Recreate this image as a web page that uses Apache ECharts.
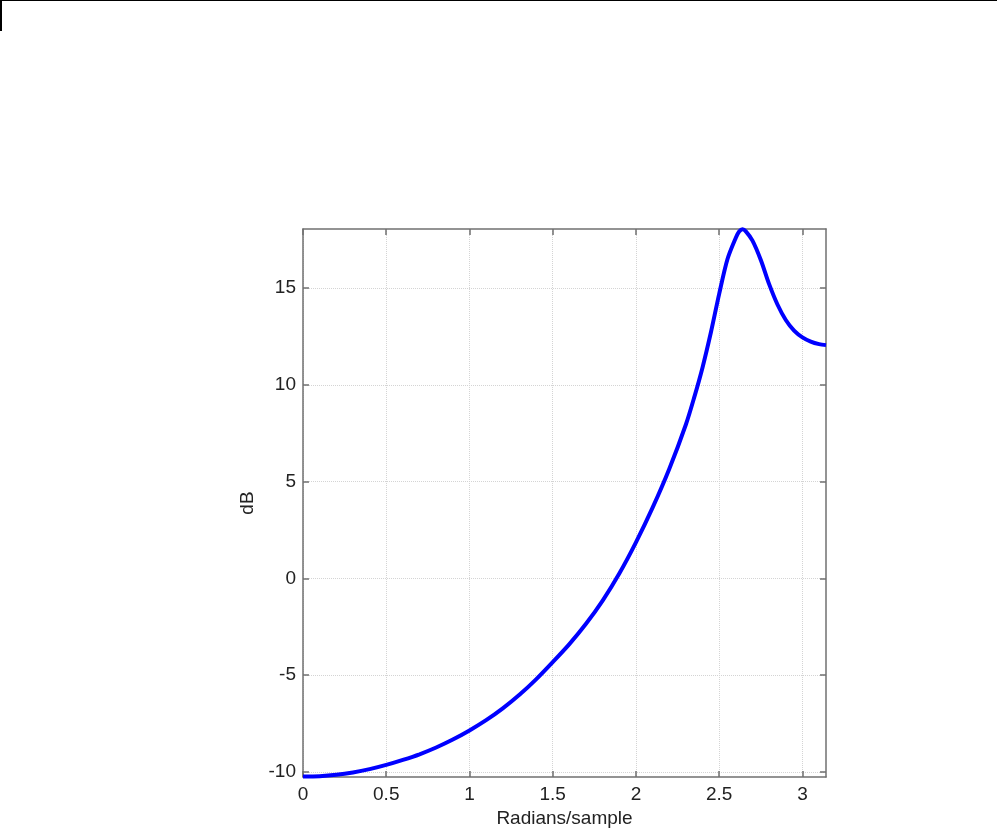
<!DOCTYPE html>
<html>
<head>
<meta charset="utf-8">
<script src="https://cdn.jsdelivr.net/npm/echarts@6/dist/echarts.min.js"></script>
<style>
  html, body { margin: 0; padding: 0; background: #fff; }
  #frame { position: absolute; left: 0; top: 0; width: 995px; height: 30px;
           border-top: 1px solid #000; border-left: 2px solid #000; }
  #chart { width: 997px; height: 833px; }
</style>
</head>
<body>
<div id="frame"></div>
<div id="chart"></div>
<script>
// frequency (rad/sample) and magnitude (dB)
const freqs = [0, 0.1, 0.2, 0.3, 0.4, 0.5, 0.6, 0.7, 0.8, 0.9, 1.0, 1.1, 1.2, 1.3, 1.4, 1.5,
  1.6, 1.7, 1.8, 1.9, 2.0, 2.1, 2.2, 2.3, 2.35, 2.4, 2.45, 2.5, 2.55, 2.6, 2.62, 2.64, 2.66,
  2.7, 2.75, 2.8, 2.85, 2.9, 2.95, 3.0, 3.05, 3.1, 3.1416];
const gainDb = [-10.24, -10.22, -10.15, -10.03, -9.86, -9.64, -9.38, -9.09, -8.74, -8.33, -7.86, -7.33, -6.72, -6.02, -5.22, -4.33,
  -3.40, -2.35, -1.15, 0.25, 1.86, 3.65, 5.65, 7.95, 9.35, 10.9, 12.7, 14.7, 16.5, 17.6, 17.92, 18.04, 17.93,
  17.45, 16.45, 15.2, 14.15, 13.35, 12.8, 12.45, 12.23, 12.1, 12.05];
const xTicks = [0, 0.5, 1, 1.5, 2, 2.5, 3];
const yTicks = [-10, -5, 0, 5, 10, 15];

const chart = echarts.init(document.getElementById('chart'));

const txt = { color: '#222', fontFamily: 'Liberation Sans, Arial, sans-serif', fontSize: 19 };
const boxLine = { show: true, onZero: false, lineStyle: { color: '#707070', width: 1.5 } };
const tick = (vals) => ({ show: true, inside: true, length: 6, customValues: vals,
  lineStyle: { color: '#707070', width: 1.5 } });
const grid = { show: true, lineStyle: { color: '#d4d4d4', type: 'dotted', width: 1 } };

const xMin = 0, xMax = Math.PI, yMin = -10.27, yMax = 18.05;

let option = {
  animation: false,
  grid: { left: 303, right: 171, top: 229, bottom: 54 },
  xAxis: [
    {
      type: 'value', min: xMin, max: xMax,
      name: 'Radians/sample', nameLocation: 'middle', nameGap: 24,
      nameTextStyle: txt,
      axisLine: boxLine, axisTick: tick(xTicks), splitLine: grid,
      axisLabel: Object.assign({ customValues: xTicks, margin: 8 }, txt)
    },
    {
      type: 'value', position: 'top', min: xMin, max: xMax,
      axisLine: boxLine, axisTick: tick(xTicks), splitLine: { show: false },
      axisLabel: { show: false }
    }
  ],
  yAxis: [
    {
      type: 'value', min: yMin, max: yMax,
      name: 'dB', nameLocation: 'middle', nameGap: 46,
      nameTextStyle: txt,
      axisLine: boxLine, axisTick: tick(yTicks), splitLine: grid,
      axisLabel: Object.assign({ customValues: yTicks, margin: 7 }, txt)
    },
    {
      type: 'value', position: 'right', min: yMin, max: yMax,
      axisLine: boxLine, axisTick: tick(yTicks), splitLine: { show: false },
      axisLabel: { show: false }
    }
  ],
  series: [
    {
      type: 'line',
      data: freqs.map((f, i) => [f, gainDb[i]]),
      smooth: 0.3,
      showSymbol: false,
      clip: false,
      lineStyle: { color: '#0000ff', width: 4 }
    }
  ]
};

chart.setOption(option);
</script>
</body>
</html>
